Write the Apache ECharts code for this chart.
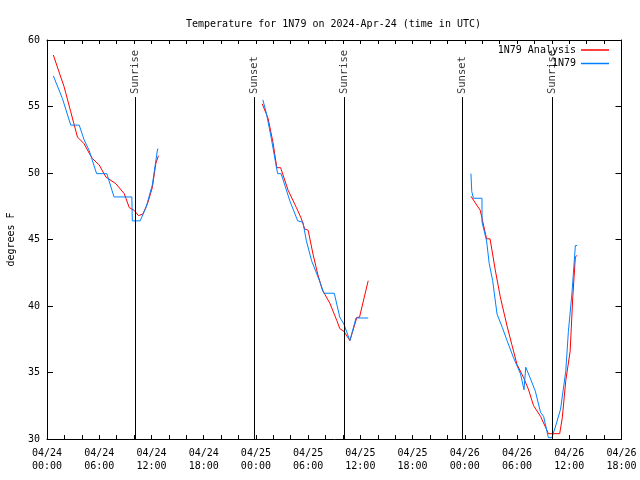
<!DOCTYPE html>
<html><head><meta charset="utf-8">
<script src="https://cdn.jsdelivr.net/npm/echarts@6/dist/echarts.min.js"></script>
<style>html,body{margin:0;padding:0;background:#fff}#c{width:640px;height:480px}</style>
</head><body><div id="c"></div>
<script>
// hours since 2024-04-24 00:00 UTC; null = gap
var analysisHours = [0.73,1.38,1.96,2.73,3.5,4.26,4.84,5.2,6.0,6.76,7.9,8.87,9.45,10.0,10.5,11.0,11.55,12.1,12.5,12.8,
  13.0,
  24.73,25.4,25.96,26.4,26.84,27.7,28.65,29.2,29.6,30.0,30.56,31.1,31.64,32.5,33.3,33.64,34.1,34.8,35.6,35.9,36.9,
  37.0,
  48.7,49.77,50.5,50.9,51.5,52.07,52.85,53.4,54.0,54.76,55.3,55.9,56.7,57.26,57.6,58.9,59.2,59.6,60.1,60.4,60.7,60.9];
var analysisTemps = [58.87,57.6,56.5,54.6,52.7,52.2,51.5,51.1,50.6,49.7,49.2,48.45,47.4,47.2,46.8,46.9,47.7,48.9,50.7,51.3,
  null,
  55.2,54.1,52.3,50.4,50.4,48.7,47.4,46.6,45.8,45.7,43.9,42.4,41.2,40.2,38.9,38.3,38.1,37.4,39.15,39.15,41.9,
  null,
  48.25,47.2,45.05,45.05,42.7,40.7,38.5,37.1,35.6,34.6,33.75,32.5,31.7,30.9,30.4,30.4,31.6,34.4,36.6,40.65,43.7,43.8];

var obsHours = [0.73,1.77,2.73,3.7,4.26,4.84,5.7,6.87,7.7,9.75,9.8,10.7,11.37,12.1,12.7,12.8,
  13.0,
  24.8,25.2,25.77,26.35,26.5,26.9,27.9,28.8,29.4,29.8,30.4,31.3,31.8,33.0,33.64,34.1,34.8,35.5,36.9,
  37.0,
  48.7,48.8,48.99,49.97,49.98,50.5,50.8,51.2,51.7,52.3,52.85,53.6,54.4,54.8,55.0,55.5,56.1,56.7,57.05,57.6,58.0,58.4,59.0,59.6,59.9,60.3,60.7,60.9];
var obsTemps = [57.3,55.6,53.6,53.6,52.5,51.7,49.95,49.95,48.2,48.2,46.4,46.4,47.4,49.1,51.8,51.8,
  null,
  55.5,54.5,52.6,50.45,49.95,49.95,47.9,46.4,46.3,44.9,43.4,41.9,40.96,40.96,39.15,38.65,37.4,39.1,39.1,
  null,
  49.95,48.6,48.1,48.1,46.3,44.9,43.2,41.9,39.4,38.4,37.4,36.1,34.9,33.7,35.4,34.6,33.6,32.0,31.7,30.1,30.1,30.9,32.25,35.1,38.1,40.9,44.55,44.55];

var sunEventHours = [10.11,23.78,34.12,47.75,58.05];
var sunEventNames = ['Sunrise','Sunset','Sunrise','Sunset','Sunrise'];

var xTickLabels = ['04/24\n00:00','04/24\n06:00','04/24\n12:00','04/24\n18:00',
  '04/25\n00:00','04/25\n06:00','04/25\n12:00','04/25\n18:00',
  '04/26\n00:00','04/26\n06:00','04/26\n12:00','04/26\n18:00'];
var seriesNames = ['1N79 Analysis','1N79'];
var titleText = 'Temperature for 1N79 on 2024-Apr-24 (time in UTC)';

function pairs(h, v){ return h.map(function(t,i){ return [t, v[i] === null ? '-' : v[i]]; }); }

var FONT = 'DejaVu Sans Mono';
var lineTop = 55.71;
var chart = echarts.init(document.getElementById('c'), null, {renderer:'canvas'});
var axCommon = {
  axisLine:{show:true,onZero:false,lineStyle:{color:'#000',width:1}},
  axisTick:{show:true,inside:true,length:4,lineStyle:{color:'#000'}},
  splitLine:{show:false}
};
chart.setOption({
  backgroundColor:'#fff',
  animation:false,
  title:{text:titleText,left:181,top:14,textStyle:{fontFamily:FONT,fontSize:10,fontWeight:'normal',color:'#000'}},
  grid:{left:47,right:18.5,top:40,bottom:41,containLabel:false,outerBoundsMode:'none'},
  legend:{data:seriesNames,orient:'vertical',right:26,top:39,align:'right',itemWidth:28,itemHeight:1.5,itemGap:1.5,icon:'rect',
    textStyle:{fontFamily:FONT,fontSize:10,color:'#000',lineHeight:12}},
  xAxis:[
    Object.assign({type:'value',min:0,max:66,interval:2,position:'bottom',
      axisLabel:{margin:8,fontFamily:FONT,fontSize:10,color:'#000',lineHeight:13,
        formatter:function(v){ return (v%6===0) ? xTickLabels[v/6] : ''; }}}, axCommon),
    Object.assign({type:'value',min:0,max:66,interval:2,position:'top',axisLabel:{show:false}}, axCommon)
  ],
  yAxis:[
    Object.assign({type:'value',min:30,max:60,interval:5,position:'left',name:'degrees F',nameLocation:'middle',nameGap:31,nameRotate:90,
      nameTextStyle:{fontFamily:FONT,fontSize:10,color:'#000'},
      axisLabel:{margin:7,fontFamily:FONT,fontSize:10,color:'#000'}}, axCommon, {axisTick:{show:true,inside:true,length:6,lineStyle:{color:'#000'}}}),
    Object.assign({type:'value',min:30,max:60,interval:5,position:'right',axisLabel:{show:false}}, axCommon, {axisTick:{show:true,inside:true,length:6,lineStyle:{color:'#000'}}})
  ],
  series:[
    {name:seriesNames[0],type:'line',data:pairs(analysisHours,analysisTemps),showSymbol:false,symbol:'none',connectNulls:false,
      lineStyle:{color:'#ff0000',width:1},itemStyle:{color:'#ff0000'},z:3},
    {name:seriesNames[1],type:'line',data:pairs(obsHours,obsTemps),showSymbol:false,symbol:'none',connectNulls:false,
      lineStyle:{color:'#0080ff',width:1},itemStyle:{color:'#0080ff'},z:4},
    {name:'sun',type:'scatter',symbolSize:0,z:5,silent:true,
      data:sunEventHours.map(function(t,i){ return {value:[t,lineTop],name:sunEventNames[i]}; }),
      label:{show:true,position:'top',distance:3,rotate:90,align:'left',verticalAlign:'middle',
        formatter:function(p){return p.name;},fontFamily:FONT,fontSize:10.5,color:'#000'},
      markLine:{silent:true,symbol:['none','none'],label:{show:false},lineStyle:{color:'#000',width:1,type:'solid'},
        data:sunEventHours.map(function(t){ return [{coord:[t,30]},{coord:[t,lineTop]}]; })}
    }
  ]
});
</script></body></html>
